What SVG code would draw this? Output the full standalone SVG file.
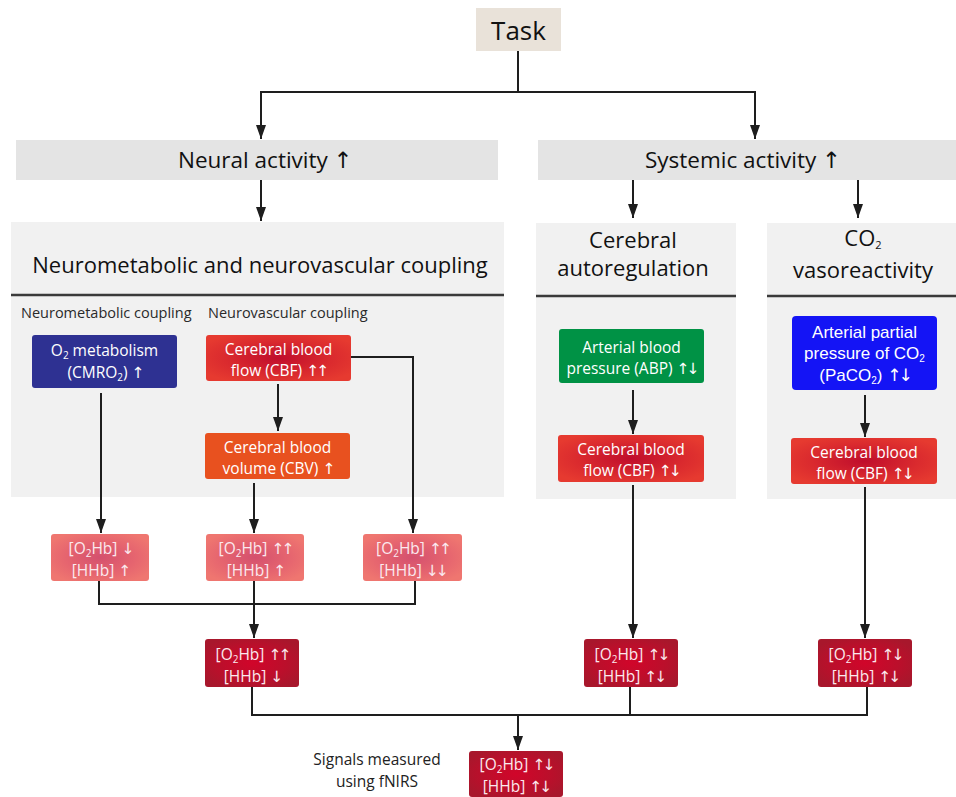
<svg xmlns="http://www.w3.org/2000/svg" width="956" height="797" viewBox="0 0 956 797">
<defs>
<marker id="ah" viewBox="0 0 14 10" refX="14" refY="5" markerWidth="14" markerHeight="10" markerUnits="userSpaceOnUse" orient="auto">
<path d="M0,0 L14,5 L0,10 z" fill="#1e1e1e"/>
</marker>
<radialGradient id="gCBF" cx="0.5" cy="0.5" r="0.6">
<stop offset="0" stop-color="#bf0d2c"/>
<stop offset="0.6" stop-color="#da2a2e"/>
<stop offset="1" stop-color="#e63a30"/>
</radialGradient>
<radialGradient id="gPink" cx="0.5" cy="0.5" r="0.6">
<stop offset="0" stop-color="#d4506e"/>
<stop offset="0.6" stop-color="#e6656f"/>
<stop offset="1" stop-color="#ef7670"/>
</radialGradient>
<radialGradient id="gDark" cx="0.5" cy="0.5" r="0.6">
<stop offset="0" stop-color="#d1052a"/>
<stop offset="0.6" stop-color="#bb0f2b"/>
<stop offset="1" stop-color="#a8172c"/>
</radialGradient>
<style>
text{font-family:"Open Sans","Liberation Sans",sans-serif;}
.hdr{font-size:22px;fill:#111;text-anchor:middle;}
.top{font-size:22.5px;fill:#111;}
.sub{font-size:14.5px;fill:#2a2a2a;}
.bx{font-size:15.5px;fill:#fff;text-anchor:middle;}
.ar2{font-size:17px;fill:#fff;text-anchor:middle;font-family:"Liberation Sans",Arial,sans-serif;}
.pk{font-size:15.5px;fill:#fbe9ee;text-anchor:middle;}
.s{font-size:10px;}
.a{font-family:"DejaVu Sans",sans-serif;letter-spacing:-3px;}
.ln{fill:none;stroke:#1e1e1e;stroke-width:2;}
.ar{fill:none;stroke:#1e1e1e;stroke-width:2;marker-end:url(#ah);}
.bar{fill:#e4e4e4;}
.pnl{fill:#f1f1f1;}
.div{stroke:#3a3a3a;stroke-width:2.5;}
</style>
</defs>
<rect width="956" height="797" fill="#ffffff"/>

<g id="task">
<rect x="476" y="8" width="85" height="43" fill="#e9e2d9"/>
<text x="518.5" y="40" font-size="26" fill="#111" text-anchor="middle">Task</text>
</g>

<g id="neural-activity">
<rect class="bar" x="16" y="140" width="482" height="40"/>
<text class="top" x="178" y="168">Neural activity <tspan class="a">↑</tspan></text>
</g>

<g id="systemic-activity">
<rect class="bar" x="538" y="140" width="418" height="40"/>
<text class="top" x="645" y="168">Systemic activity <tspan class="a">↑</tspan></text>
</g>

<g id="coupling-panel">
<rect class="pnl" x="11" y="222" width="493" height="275"/>
<text class="hdr" x="260" y="273">Neurometabolic and neurovascular coupling</text>
<line class="div" x1="11" y1="295" x2="504" y2="295"/>
<text class="sub" x="21" y="318">Neurometabolic coupling</text>
<text class="sub" x="208" y="318">Neurovascular coupling</text>
</g>

<g id="autoregulation-panel">
<rect class="pnl" x="536" y="223" width="200" height="276"/>
<text class="hdr" x="633" y="248">Cerebral</text>
<text class="hdr" x="633" y="276">autoregulation</text>
<line class="div" x1="536" y1="296" x2="736" y2="296"/>
</g>

<g id="co2-panel">
<rect class="pnl" x="767" y="223" width="189" height="276"/>
<text class="hdr" x="863" y="246">CO<tspan font-size="11" dy="3">2</tspan></text>
<text class="hdr" x="863" y="278">vasoreactivity</text>
<line class="div" x1="767" y1="296" x2="956" y2="296"/>
</g>

<g id="o2-metabolism">
<rect x="32" y="335" width="145" height="53" rx="3" fill="#2e3192"/>
<text class="bx" x="104.5" y="356">O<tspan class="s" dy="3">2</tspan><tspan dy="-3"> metabolism</tspan></text>
<text class="bx" x="104.5" y="378">(CMRO<tspan class="s" dy="3">2</tspan><tspan dy="-3">) </tspan><tspan class="a">↑</tspan></text>
</g>

<g id="cbf-neural">
<rect x="206" y="335" width="145" height="46" rx="3" fill="url(#gCBF)"/>
<text class="bx" x="278.5" y="355">Cerebral blood</text>
<text class="bx" x="278.5" y="376">flow (CBF) <tspan class="a">↑↑</tspan></text>
</g>

<g id="cbv">
<rect x="205" y="433" width="145" height="46" rx="3" fill="#e8511f"/>
<text class="bx" x="277.5" y="453">Cerebral blood</text>
<text class="bx" x="277.5" y="474">volume (CBV) <tspan class="a">↑</tspan></text>
</g>

<g id="abp">
<rect x="559" y="329" width="145" height="54" rx="3" fill="#009245"/>
<text class="bx" x="631.5" y="353">Arterial blood</text>
<text class="bx" x="631.5" y="374">pressure (ABP) <tspan class="a">↑↓</tspan></text>
</g>

<g id="cbf-auto">
<rect x="558" y="435" width="146" height="47" rx="3" fill="url(#gCBF)"/>
<text class="bx" x="631" y="455">Cerebral blood</text>
<text class="bx" x="631" y="476">flow (CBF) <tspan class="a">↑↓</tspan></text>
</g>

<g id="paco2">
<rect x="792" y="316" width="145" height="74" rx="4" fill="#1414f5"/>
<text class="ar2" x="864.5" y="338">Arterial partial</text>
<text class="ar2" x="864.5" y="359">pressure of CO<tspan class="s" dy="3">2</tspan></text>
<text class="ar2" x="864.5" y="381">(PaCO<tspan class="s" dy="3">2</tspan><tspan dy="-3">) </tspan><tspan class="a">↑↓</tspan></text>
</g>

<g id="cbf-co2">
<rect x="791" y="438" width="146" height="46" rx="3" fill="url(#gCBF)"/>
<text class="bx" x="864" y="458">Cerebral blood</text>
<text class="bx" x="864" y="479">flow (CBF) <tspan class="a">↑↓</tspan></text>
</g>

<g id="hb-metabolic">
<rect x="51" y="534" width="98" height="47" rx="3" fill="url(#gPink)"/>
<text class="pk" x="100" y="554">[O<tspan class="s" dy="3">2</tspan><tspan dy="-3">Hb] </tspan><tspan class="a">↓</tspan></text>
<text class="pk" x="100" y="576">[HHb] <tspan class="a">↑</tspan></text>
</g>

<g id="hb-cbv">
<rect x="206" y="534" width="98" height="47" rx="3" fill="url(#gPink)"/>
<text class="pk" x="255" y="554">[O<tspan class="s" dy="3">2</tspan><tspan dy="-3">Hb] </tspan><tspan class="a">↑↑</tspan></text>
<text class="pk" x="255" y="576">[HHb] <tspan class="a">↑</tspan></text>
</g>

<g id="hb-cbf">
<rect x="363" y="534" width="99" height="47" rx="3" fill="url(#gPink)"/>
<text class="pk" x="412.5" y="554">[O<tspan class="s" dy="3">2</tspan><tspan dy="-3">Hb] </tspan><tspan class="a">↑↑</tspan></text>
<text class="pk" x="412.5" y="576">[HHb] <tspan class="a">↓↓</tspan></text>
</g>

<g id="hb-neural">
<rect x="205" y="639" width="94" height="48" rx="3" fill="url(#gDark)"/>
<text class="pk" x="252" y="660">[O<tspan class="s" dy="3">2</tspan><tspan dy="-3">Hb] </tspan><tspan class="a">↑↑</tspan></text>
<text class="pk" x="252" y="682">[HHb] <tspan class="a">↓</tspan></text>
</g>

<g id="hb-auto">
<rect x="584" y="639" width="94" height="48" rx="3" fill="url(#gDark)"/>
<text class="pk" x="631" y="660">[O<tspan class="s" dy="3">2</tspan><tspan dy="-3">Hb] </tspan><tspan class="a">↑↓</tspan></text>
<text class="pk" x="631" y="682">[HHb] <tspan class="a">↑↓</tspan></text>
</g>

<g id="hb-co2">
<rect x="818" y="639" width="94" height="48" rx="3" fill="url(#gDark)"/>
<text class="pk" x="865" y="660">[O<tspan class="s" dy="3">2</tspan><tspan dy="-3">Hb] </tspan><tspan class="a">↑↓</tspan></text>
<text class="pk" x="865" y="682">[HHb] <tspan class="a">↑↓</tspan></text>
</g>

<g id="hb-measured">
<rect x="469" y="751" width="94" height="46" rx="3" fill="url(#gDark)"/>
<text class="pk" x="516" y="770">[O<tspan class="s" dy="3">2</tspan><tspan dy="-3">Hb] </tspan><tspan class="a">↑↓</tspan></text>
<text class="pk" x="516" y="792">[HHb] <tspan class="a">↑↓</tspan></text>
</g>

<g id="signals-label">
<text x="377" y="765" font-size="15.5" fill="#222" text-anchor="middle">Signals measured</text>
<text x="377" y="787" font-size="15.5" fill="#222" text-anchor="middle">using fNIRS</text>
</g>

<g id="connectors">
<line class="ln" x1="518" y1="51" x2="518" y2="92"/>
<path class="ar" d="M261,92 V139"/>
<path class="ln" d="M261,139 V92 H755 V139"/>
<path class="ar" d="M755,92 V139"/>
<path class="ar" d="M261,180 V221"/>
<path class="ar" d="M633,180 V218"/>
<path class="ar" d="M858,180 V218"/>
<path class="ar" d="M101,393 V533"/>
<path class="ar" d="M278,384 V431"/>
<path class="ar" d="M351,357 H413 V533"/>
<path class="ar" d="M254,483 V533"/>
<path class="ln" d="M99,581 V604 H415 V581"/>
<path class="ar" d="M254,581 V638"/>
<path class="ar" d="M633,390 V434"/>
<path class="ar" d="M633,485 V638"/>
<path class="ar" d="M865,395 V437"/>
<path class="ar" d="M865,487 V638"/>
<path class="ln" d="M252,687 V715 H867 V687"/>
<path class="ln" d="M630,687 V715"/>
<path class="ar" d="M518,715 V750"/>
</g>
</svg>
